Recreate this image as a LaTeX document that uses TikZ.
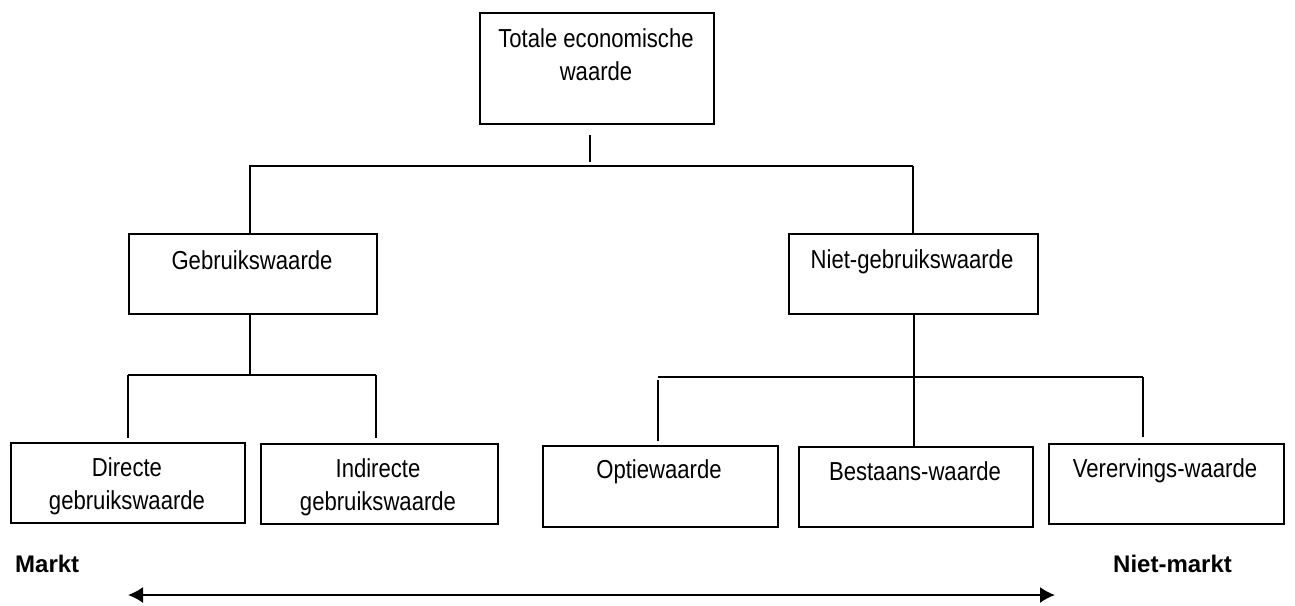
\documentclass[tikz,border=0pt]{standalone}
\usepackage{fontspec}
\newfontfamily\narrowfont{Liberation Sans}[FakeStretch=0.85]
\newfontfamily\plainsans{Liberation Sans}
\usetikzlibrary{arrows.meta}
\begin{document}
\begin{tikzpicture}[x=1pt,y=-1pt,
  >={Latex[length=15pt,width=16pt]},
  box/.style={draw, line width=2pt, inner sep=0pt, anchor=north west},
  lbl/.style={inner sep=0pt, font=\narrowfont\fontsize{26}{33}\selectfont, align=center},
  conn/.style={line width=1.8pt},
  side/.style={inner sep=0pt, anchor=base west, font=\plainsans\bfseries\fontsize{24}{28}\selectfont}]
\useasboundingbox (0,0) rectangle (1295,605);

% boxes
\node[box, minimum width=234, minimum height=111] (tot) at (479,12) {};
\node[box, minimum width=248, minimum height=80] (geb) at (128,233) {};
\node[box, minimum width=249, minimum height=80] (niet) at (788,233) {};
\node[box, minimum width=234, minimum height=80] (dir) at (10,442) {};
\node[box, minimum width=237, minimum height=80] (ind) at (260,443) {};
\node[box, minimum width=235, minimum height=81] (opt) at (542,445) {};
\node[box, minimum width=234, minimum height=80] (best) at (798,446) {};
\node[box, minimum width=235, minimum height=80] (verv) at (1048,443) {};

% labels
\node[lbl, anchor=north] (ttot) at (596,28) {Totale economische\\waarde};
\node[lbl, anchor=base] (tgeb) at (252,269) {Gebruikswaarde};
\node[lbl, anchor=base] (tniet) at (912,268) {Niet-gebruikswaarde};
\node[lbl, anchor=north] (tdir) at (127,457) {Directe\\gebruikswaarde};
\node[lbl, anchor=north] (tind) at (378,458.5) {Indirecte\\gebruikswaarde};
\node[lbl, anchor=base] (topt) at (659,478) {Optiewaarde};
\node[lbl, anchor=base] (tbest) at (915,480) {Bestaans-waarde};
\node[lbl, anchor=base] (tverv) at (1165,477) {Verervings-waarde};

\node[side] (markt) at (15,572) {Markt};
\node[side] (nmarkt) at (1113,572) {Niet-markt};

% connector points
\coordinate (t1) at (590,135);
\coordinate (t2) at (590,162);
\coordinate (hL) at (249,166);
\coordinate (hR) at (913,166);
\coordinate (g1) at (250,375);
\coordinate (gL) at (128,375);
\coordinate (gR) at (376,375);
\coordinate (n1) at (914,377);
\coordinate (nL) at (658,377);
\coordinate (nR) at (1143,377);
\coordinate (aL) at (128,595);
\coordinate (aR) at (1055,595);

\draw[conn] (t1) -- (t2);
\draw[conn] (hL) -- (hR);
\draw[conn] (250,166) -- (geb.north -| g1);
\draw[conn] (hR) -- (niet.north -| hR);
\draw[conn] (geb.south -| g1) -- (g1);
\draw[conn] (gL) -- (gR);
\draw[conn] (gL) -- (128,438);
\draw[conn] (gR) -- (376,438);
\draw[conn] (niet.south -| n1) -- (best.north -| n1);
\draw[conn] (nL) -- (nR);
\draw[conn] (658,380) -- (658,441);
\draw[conn] (nR) -- (1143,437);
\draw[conn, <->] (aL) -- (aR);
\end{tikzpicture}
\end{document}
